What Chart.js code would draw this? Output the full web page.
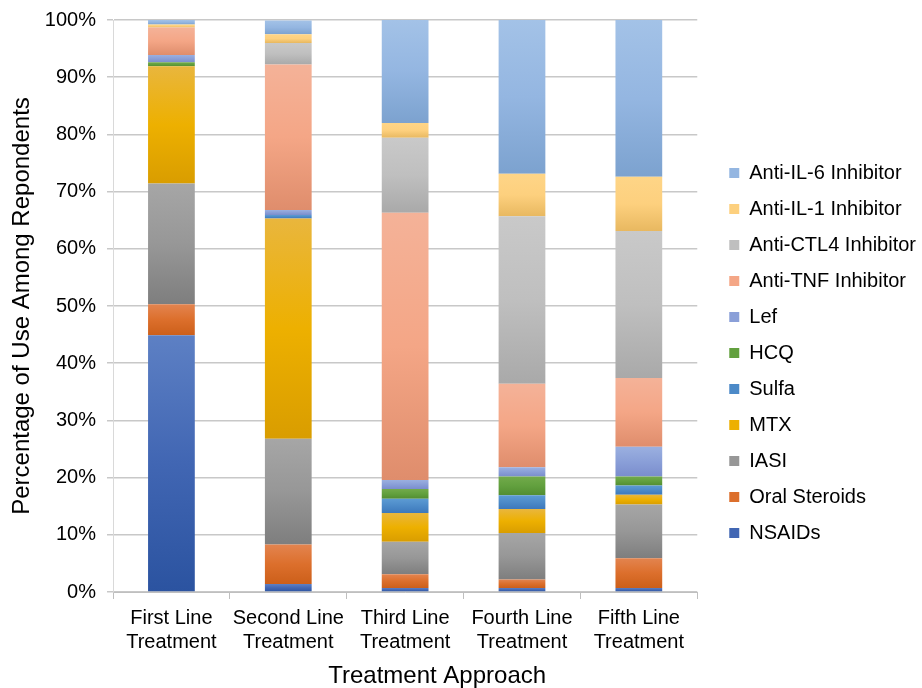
<!DOCTYPE html>
<html>
<head>
<meta charset="utf-8">
<script src="https://cdn.jsdelivr.net/npm/chart.js@4/dist/chart.umd.min.js"></script>
<style>
  html, body { margin: 0; padding: 0; background: #fff; }
  #wrap { width: 922px; height: 688px; }
</style>
</head>
<body>
<div id="wrap"><canvas id="treatChart"></canvas></div>
<script>
const categories = [['First Line', 'Treatment'], ['Second Line', 'Treatment'], ['Third Line', 'Treatment'], ['Fourth Line', 'Treatment'], ['Fifth Line', 'Treatment']];

// percentages, bottom of stack first
const nsaids      = [44.9, 1.4, 0.7, 0.7, 0.7];
const oralSteroid = [5.4, 6.9, 2.4, 1.5, 5.2];
const iasi        = [21.1, 18.5, 5.7, 8.1, 9.4];
const mtx         = [20.5, 38.5, 5.0, 4.2, 1.7];
const sulfa       = [0.0, 0.6, 2.5, 2.4, 1.6];
const hcq         = [0.7, 0.0, 1.7, 3.3, 1.6];
const lef         = [1.3, 0.9, 1.6, 1.6, 5.2];
const antiTnf     = [4.8, 25.4, 46.7, 14.6, 12.0];
const antiCtl4    = [0.0, 3.8, 13.1, 29.3, 25.7];
const antiIl1     = [0.5, 1.5, 2.6, 7.4, 9.5];
const antiIl6     = [0.8, 2.4, 18.0, 26.9, 27.4];

const seriesNames = ['NSAIDs', 'Oral Steroids', 'IASI', 'MTX', 'Sulfa', 'HCQ', 'Lef',
  'Anti-TNF Inhibitor', 'Anti-CTL4 Inhibitor', 'Anti-IL-1 Inhibitor', 'Anti-IL-6 Inhibitor'];
const seriesData = [nsaids, oralSteroid, iasi, mtx, sulfa, hcq, lef, antiTnf, antiCtl4, antiIl1, antiIl6];

const yTicks = [0, 10, 20, 30, 40, 50, 60, 70, 80, 90, 100];

// top / middle / bottom of each bar segment gradient
const shades = [
  ['#5d80c4', '#4166b3', '#2b53a0'],
  ['#e3844f', '#dc6f2c', '#cc5f1a'],
  ['#a6a6a6', '#979797', '#7e7e7e'],
  ['#e9b63d', '#edb000', '#d99d00'],
  ['#5c9bd3', '#4c8ac8', '#3c78bb'],
  ['#72aa4b', '#62a03e', '#528d31'],
  ['#9bb0e0', '#8a9fd8', '#7a8dcd'],
  ['#f4b298', '#f4a686', '#df8d6c'],
  ['#c9c9c9', '#bfbfbf', '#a9a9a9'],
  ['#fed587', '#fdd07e', '#e8b860'],
  ['#a3c2e7', '#94b6e1', '#7ca2cf']
];

function segmentFill(i) {
  return function (ctx) {
    const chart = ctx.chart;
    const y = chart.scales && chart.scales.y;
    if (ctx.type !== 'data' || !chart.chartArea || !y) return shades[i][1];
    let base = 0;
    for (let k = 0; k < i; k++) base += seriesData[k][ctx.dataIndex];
    const top = base + seriesData[i][ctx.dataIndex];
    const y0 = y.getPixelForValue(top);
    const y1 = y.getPixelForValue(base);
    if (!isFinite(y0) || !isFinite(y1) || y1 - y0 < 1) return shades[i][1];
    const g = chart.ctx.createLinearGradient(0, y0, 0, y1);
    g.addColorStop(0, shades[i][0]);
    g.addColorStop(0.5, shades[i][1]);
    g.addColorStop(1, shades[i][2]);
    return g;
  };
}

const datasets = seriesNames.map((name, i) => ({
  label: name,
  data: seriesData[i],
  backgroundColor: segmentFill(i),
  borderWidth: 0,
  categoryPercentage: 1.0,
  barPercentage: 0.4
}));

// extra space between plot area and legend, and x title nudged right like the original
const LEGEND_GAP = 19;
const LEGEND_SHIFT = 16;
const X_TITLE_SHIFT = 32;
const layoutTweaks = {
  id: 'layoutTweaks',
  beforeLayout(chart) {
    const lg = chart.legend;
    if (!lg || lg._gapDone) return;
    lg._gapDone = true;
    const fit = lg.fit, draw = lg.draw;
    lg.fit = function () { fit.call(this); this.width += LEGEND_GAP; };
    lg.draw = function () { this.left += LEGEND_SHIFT; draw.call(this); this.left -= LEGEND_SHIFT; };
  },
  afterLayout(chart) {
    const xs = chart.scales.x;
    if (!xs || xs._shiftDone) return;
    xs._shiftDone = true;
    const drawTitle = xs.drawTitle;
    xs.drawTitle = function () {
      this.ctx.save();
      this.ctx.translate(X_TITLE_SHIFT, 0);
      drawTitle.call(this);
      this.ctx.restore();
    };
  }
};

const font = 'Liberation Sans, Arial, sans-serif';

new Chart(document.getElementById('treatChart'), {
  type: 'bar',
  data: { labels: categories, datasets: datasets },
  plugins: [layoutTweaks],
  options: {
    responsive: true,
    maintainAspectRatio: false,
    animation: false,
    layout: { padding: { top: 0, right: -7, bottom: 0, left: 8 } },
    plugins: {
      tooltip: { enabled: false },
      legend: {
        position: 'right',
        reverse: true,
        title: { display: true, text: '', font: { size: 1 }, padding: { top: 0, bottom: 17 } },
        labels: {
          font: { family: font, size: 20 },
          color: '#000',
          boxWidth: 10,
          boxHeight: 10,
          padding: 16,
          generateLabels: chart => chart.data.datasets.map((ds, i) => ({
            text: ds.label,
            fillStyle: shades[i][1],
            strokeStyle: shades[i][1],
            fontColor: '#000',
            lineWidth: 0,
            hidden: false,
            datasetIndex: i
          }))
        }
      }
    },
    scales: {
      x: {
        stacked: true,
        grid: { display: true, drawOnChartArea: false, drawTicks: true, tickLength: 7, color: '#bfbfbf' },
        border: { color: '#bfbfbf' },
        ticks: { font: { family: font, size: 20, lineHeight: 1.2 }, color: '#000', padding: 7, maxRotation: 0 },
        title: { display: true, text: 'Treatment Approach', font: { family: font, size: 24, lineHeight: 1 }, color: '#000', padding: { top: 3, bottom: 0 } }
      },
      y: {
        stacked: true,
        min: 0,
        max: 100,
        afterBuildTicks: axis => { axis.ticks = yTicks.map(v => ({ value: v })); },
        afterFit: axis => { axis.width = 105; },
        grid: { color: '#c8c8c8', lineWidth: 1.5, drawTicks: true, tickLength: 6 },
        border: { display: true, color: '#d9d9d9' },
        ticks: { font: { family: font, size: 20, lineHeight: 0.9 }, color: '#000', padding: 11, callback: v => v + '%' },
        title: { display: true, text: 'Percentage of Use Among Repondents', font: { family: font, size: 24 }, color: '#000', padding: { top: 0, bottom: 0 } }
      }
    }
  }
});
</script>
</body>
</html>
